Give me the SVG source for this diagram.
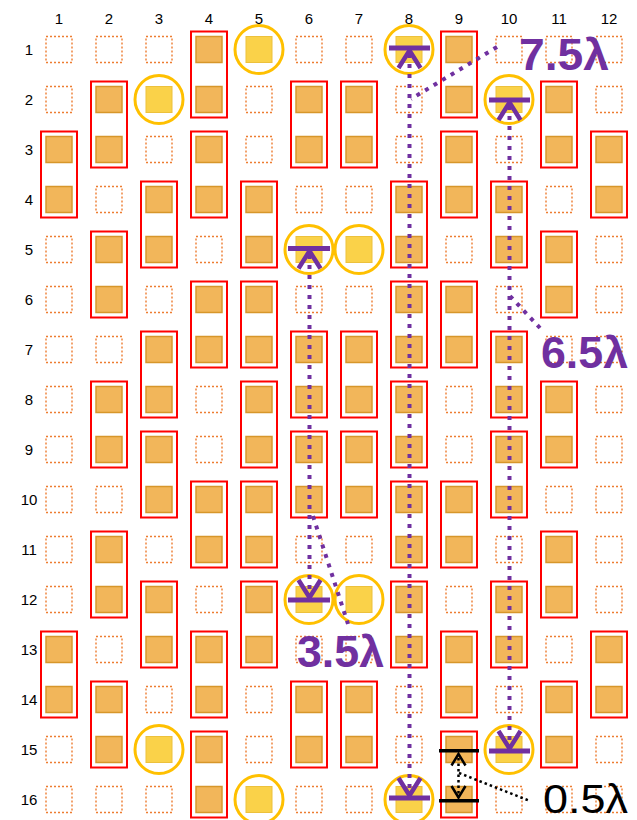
<svg xmlns="http://www.w3.org/2000/svg" xmlns:xlink="http://www.w3.org/1999/xlink" width="637" height="820" viewBox="0 0 637 820">
<style>
.lbl{font-family:"Liberation Sans",Arial,sans-serif;font-size:15px;fill:#000;text-anchor:middle}
.dash{fill:none;stroke:#ED7D31;stroke-width:1.4;stroke-dasharray:2 2}
.fill{fill:#F2B65A;stroke:#D7962C;stroke-width:1.5}
.ysq{fill:#FAD24A;stroke:#EDC13A;stroke-width:1}
.ring{fill:none;stroke:#FFC000;stroke-width:3}
.red{fill:none;stroke:#FF0000;stroke-width:2}
.pdot{fill:none;stroke:#7030A0;stroke-width:4;stroke-dasharray:4 6}
.pbar{fill:none;stroke:#7030A0;stroke-width:5}
.pchev{fill:none;stroke:#7030A0;stroke-width:4.5;stroke-linejoin:miter}
.kdot{fill:none;stroke:#000;stroke-width:2.5;stroke-dasharray:2.5 3}
.kbar{fill:none;stroke:#000;stroke-width:3.5}
.kchev{fill:none;stroke:#000;stroke-width:2.5}
.plab{font-family:"Liberation Sans",Arial,sans-serif;font-weight:bold;font-size:45px;fill:#7030A0}
.klab{font-family:"Liberation Sans",Arial,sans-serif;font-size:40px;fill:#000}
</style>
<defs>
<filter id="soft" x="-20%" y="-20%" width="140%" height="140%"><feGaussianBlur stdDeviation="0.6"/></filter>
<rect id="d" x="-13" y="-13" width="26" height="26" class="dash"/>
<g id="pair"><rect x="-18" y="-18" width="36" height="86" class="red"/><rect x="-13" y="-13" width="26" height="26" class="fill" filter="url(#soft)"/><rect x="-13" y="37" width="26" height="26" class="fill" filter="url(#soft)"/></g>
<g id="yc"><rect x="-13" y="-13" width="26" height="26" class="ysq" filter="url(#soft)"/><circle r="24" class="ring"/></g>
</defs>
<rect width="637" height="820" fill="#fff"/>
<g id="col-labels">
<text class="lbl" x="59" y="24">1</text><text class="lbl" x="109" y="24">2</text><text class="lbl" x="159" y="24">3</text><text class="lbl" x="209" y="24">4</text><text class="lbl" x="259" y="24">5</text><text class="lbl" x="309" y="24">6</text><text class="lbl" x="359" y="24">7</text><text class="lbl" x="409" y="24">8</text><text class="lbl" x="459" y="24">9</text><text class="lbl" x="509" y="24">10</text><text class="lbl" x="559" y="24">11</text><text class="lbl" x="609" y="24">12</text>
</g>
<g id="row-labels">
<text class="lbl" x="29" y="54.5">1</text><text class="lbl" x="29" y="104.5">2</text><text class="lbl" x="29" y="154.5">3</text><text class="lbl" x="29" y="204.5">4</text><text class="lbl" x="29" y="254.5">5</text><text class="lbl" x="29" y="304.5">6</text><text class="lbl" x="29" y="354.5">7</text><text class="lbl" x="29" y="404.5">8</text><text class="lbl" x="29" y="454.5">9</text><text class="lbl" x="29" y="504.5">10</text><text class="lbl" x="29" y="554.5">11</text><text class="lbl" x="29" y="604.5">12</text><text class="lbl" x="29" y="654.5">13</text><text class="lbl" x="29" y="704.5">14</text><text class="lbl" x="29" y="754.5">15</text><text class="lbl" x="29" y="804.5">16</text>
</g>
<g id="empty-cells">
<!-- col1 -->
<use href="#d" x="59" y="49.5"/><use href="#d" x="59" y="99.5"/><use href="#d" x="59" y="249.5"/><use href="#d" x="59" y="299.5"/><use href="#d" x="59" y="349.5"/><use href="#d" x="59" y="399.5"/><use href="#d" x="59" y="449.5"/><use href="#d" x="59" y="499.5"/><use href="#d" x="59" y="549.5"/><use href="#d" x="59" y="599.5"/><use href="#d" x="59" y="749.5"/><use href="#d" x="59" y="799.5"/>
<!-- col2 -->
<use href="#d" x="109" y="49.5"/><use href="#d" x="109" y="199.5"/><use href="#d" x="109" y="349.5"/><use href="#d" x="109" y="499.5"/><use href="#d" x="109" y="649.5"/><use href="#d" x="109" y="799.5"/>
<!-- col3 -->
<use href="#d" x="159" y="49.5"/><use href="#d" x="159" y="149.5"/><use href="#d" x="159" y="299.5"/><use href="#d" x="159" y="549.5"/><use href="#d" x="159" y="699.5"/><use href="#d" x="159" y="799.5"/>
<!-- col4 -->
<use href="#d" x="209" y="249.5"/><use href="#d" x="209" y="399.5"/><use href="#d" x="209" y="449.5"/><use href="#d" x="209" y="599.5"/>
<!-- col5 -->
<use href="#d" x="259" y="99.5"/><use href="#d" x="259" y="149.5"/><use href="#d" x="259" y="699.5"/><use href="#d" x="259" y="749.5"/>
<!-- col6 -->
<use href="#d" x="309" y="49.5"/><use href="#d" x="309" y="199.5"/><use href="#d" x="309" y="299.5"/><use href="#d" x="309" y="549.5"/><use href="#d" x="309" y="649.5"/><use href="#d" x="309" y="799.5"/>
<!-- col7 -->
<use href="#d" x="359" y="49.5"/><use href="#d" x="359" y="199.5"/><use href="#d" x="359" y="299.5"/><use href="#d" x="359" y="549.5"/><use href="#d" x="359" y="649.5"/><use href="#d" x="359" y="799.5"/>
<!-- col8 -->
<use href="#d" x="409" y="99.5"/><use href="#d" x="409" y="149.5"/><use href="#d" x="409" y="699.5"/><use href="#d" x="409" y="749.5"/>
<!-- col9 -->
<use href="#d" x="459" y="249.5"/><use href="#d" x="459" y="399.5"/><use href="#d" x="459" y="449.5"/><use href="#d" x="459" y="599.5"/>
<!-- col10 -->
<use href="#d" x="509" y="49.5"/><use href="#d" x="509" y="149.5"/><use href="#d" x="509" y="299.5"/><use href="#d" x="509" y="549.5"/><use href="#d" x="509" y="699.5"/><use href="#d" x="509" y="799.5"/>
<!-- col11 -->
<use href="#d" x="559" y="49.5"/><use href="#d" x="559" y="199.5"/><use href="#d" x="559" y="349.5"/><use href="#d" x="559" y="499.5"/><use href="#d" x="559" y="649.5"/><use href="#d" x="559" y="799.5"/>
<!-- col12 -->
<use href="#d" x="609" y="49.5"/><use href="#d" x="609" y="99.5"/><use href="#d" x="609" y="249.5"/><use href="#d" x="609" y="299.5"/><use href="#d" x="609" y="349.5"/><use href="#d" x="609" y="399.5"/><use href="#d" x="609" y="449.5"/><use href="#d" x="609" y="499.5"/><use href="#d" x="609" y="549.5"/><use href="#d" x="609" y="599.5"/><use href="#d" x="609" y="749.5"/><use href="#d" x="609" y="799.5"/>
</g>
<g id="pairs">
<g id="p-1-3"><use href="#pair" x="59" y="149.5"/></g>
<g id="p-1-13"><use href="#pair" x="59" y="649.5"/></g>
<g id="p-2-2"><use href="#pair" x="109" y="99.5"/></g>
<g id="p-2-5"><use href="#pair" x="109" y="249.5"/></g>
<g id="p-2-8"><use href="#pair" x="109" y="399.5"/></g>
<g id="p-2-11"><use href="#pair" x="109" y="549.5"/></g>
<g id="p-2-14"><use href="#pair" x="109" y="699.5"/></g>
<g id="p-3-4"><use href="#pair" x="159" y="199.5"/></g>
<g id="p-3-7"><use href="#pair" x="159" y="349.5"/></g>
<g id="p-3-9"><use href="#pair" x="159" y="449.5"/></g>
<g id="p-3-12"><use href="#pair" x="159" y="599.5"/></g>
<g id="p-4-1"><use href="#pair" x="209" y="49.5"/></g>
<g id="p-4-3"><use href="#pair" x="209" y="149.5"/></g>
<g id="p-4-6"><use href="#pair" x="209" y="299.5"/></g>
<g id="p-4-10"><use href="#pair" x="209" y="499.5"/></g>
<g id="p-4-13"><use href="#pair" x="209" y="649.5"/></g>
<g id="p-4-15"><use href="#pair" x="209" y="749.5"/></g>
<g id="p-5-4"><use href="#pair" x="259" y="199.5"/></g>
<g id="p-5-6"><use href="#pair" x="259" y="299.5"/></g>
<g id="p-5-8"><use href="#pair" x="259" y="399.5"/></g>
<g id="p-5-10"><use href="#pair" x="259" y="499.5"/></g>
<g id="p-5-12"><use href="#pair" x="259" y="599.5"/></g>
<g id="p-6-2"><use href="#pair" x="309" y="99.5"/></g>
<g id="p-6-7"><use href="#pair" x="309" y="349.5"/></g>
<g id="p-6-9"><use href="#pair" x="309" y="449.5"/></g>
<g id="p-6-14"><use href="#pair" x="309" y="699.5"/></g>
<g id="p-7-2"><use href="#pair" x="359" y="99.5"/></g>
<g id="p-7-7"><use href="#pair" x="359" y="349.5"/></g>
<g id="p-7-9"><use href="#pair" x="359" y="449.5"/></g>
<g id="p-7-14"><use href="#pair" x="359" y="699.5"/></g>
<g id="p-8-4"><use href="#pair" x="409" y="199.5"/></g>
<g id="p-8-6"><use href="#pair" x="409" y="299.5"/></g>
<g id="p-8-8"><use href="#pair" x="409" y="399.5"/></g>
<g id="p-8-10"><use href="#pair" x="409" y="499.5"/></g>
<g id="p-8-12"><use href="#pair" x="409" y="599.5"/></g>
<g id="p-9-1"><use href="#pair" x="459" y="49.5"/></g>
<g id="p-9-3"><use href="#pair" x="459" y="149.5"/></g>
<g id="p-9-6"><use href="#pair" x="459" y="299.5"/></g>
<g id="p-9-10"><use href="#pair" x="459" y="499.5"/></g>
<g id="p-9-13"><use href="#pair" x="459" y="649.5"/></g>
<g id="p-9-15"><use href="#pair" x="459" y="749.5"/></g>
<g id="p-10-4"><use href="#pair" x="509" y="199.5"/></g>
<g id="p-10-7"><use href="#pair" x="509" y="349.5"/></g>
<g id="p-10-9"><use href="#pair" x="509" y="449.5"/></g>
<g id="p-10-12"><use href="#pair" x="509" y="599.5"/></g>
<g id="p-11-2"><use href="#pair" x="559" y="99.5"/></g>
<g id="p-11-5"><use href="#pair" x="559" y="249.5"/></g>
<g id="p-11-8"><use href="#pair" x="559" y="399.5"/></g>
<g id="p-11-11"><use href="#pair" x="559" y="549.5"/></g>
<g id="p-11-14"><use href="#pair" x="559" y="699.5"/></g>
<g id="p-12-3"><use href="#pair" x="609" y="149.5"/></g>
<g id="p-12-13"><use href="#pair" x="609" y="649.5"/></g>
</g>
<g id="singles">
<g id="y-5-1"><use href="#yc" x="259" y="49.5"/></g>
<g id="y-8-1"><use href="#yc" x="409" y="49.5"/></g>
<g id="y-3-2"><use href="#yc" x="159" y="99.5"/></g>
<g id="y-10-2"><use href="#yc" x="509" y="99.5"/></g>
<g id="y-6-5"><use href="#yc" x="309" y="249.5"/></g>
<g id="y-7-5"><use href="#yc" x="359" y="249.5"/></g>
<g id="y-6-12"><use href="#yc" x="309" y="599.5"/></g>
<g id="y-7-12"><use href="#yc" x="359" y="599.5"/></g>
<g id="y-3-15"><use href="#yc" x="159" y="749.5"/></g>
<g id="y-10-15"><use href="#yc" x="509" y="749.5"/></g>
<g id="y-5-16"><use href="#yc" x="259" y="799.5"/></g>
<g id="y-8-16"><use href="#yc" x="409" y="799.5"/></g>
</g>
<g id="connectors">
<!-- 7.5 lambda: col8 row1 to row16 -->
<line class="pdot" x1="409.5" y1="54" x2="409.5" y2="794"/>
<line class="pbar" x1="389" y1="48" x2="430" y2="48"/>
<polyline class="pchev" points="398.5,68 409.5,50.5 420.5,68"/>
<line class="pbar" x1="389" y1="798" x2="430" y2="798"/>
<polyline class="pchev" points="398.5,778 409.5,795.5 420.5,778"/>
<!-- 6.5 lambda: col10 row2 to row15 -->
<line class="pdot" x1="509.5" y1="106" x2="509.5" y2="745"/>
<line class="pbar" x1="489" y1="100" x2="530" y2="100"/>
<polyline class="pchev" points="498.5,120 509.5,102.5 520.5,120"/>
<line class="pbar" x1="489" y1="751" x2="530" y2="751"/>
<polyline class="pchev" points="498.5,731 509.5,748.5 520.5,731"/>
<!-- 3.5 lambda: col6 row5 to row12 -->
<line class="pdot" x1="309.5" y1="255" x2="309.5" y2="594"/>
<line class="pbar" x1="288" y1="248.5" x2="330" y2="248.5"/>
<polyline class="pchev" points="298.5,268.5 309.5,251 320.5,268.5"/>
<line class="pbar" x1="288" y1="600" x2="330" y2="600"/>
<polyline class="pchev" points="298.5,580 309.5,597.5 320.5,580"/>
<!-- 0.5 lambda: col9 row15 to row16 -->
<line class="kdot" x1="458.5" y1="758" x2="458.5" y2="794"/>
<line class="kbar" x1="439" y1="750.7" x2="479" y2="750.7"/>
<polyline class="kchev" points="451.5,765.5 458.5,754 465.5,765.5"/>
<line class="kbar" x1="439" y1="800.7" x2="479" y2="800.7"/>
<polyline class="kchev" points="451.5,786 458.5,797.5 465.5,786"/>
<!-- leaders -->
<line class="pdot" x1="497" y1="47" x2="411" y2="99"/>
<line class="pdot" x1="510" y1="296" x2="540" y2="328"/>
<line class="pdot" x1="313" y1="516" x2="348" y2="624"/>
<line class="kdot" x1="459" y1="773" x2="530" y2="801"/>
</g>
<g id="labels">
<text class="plab" x="519" y="70" textLength="90" lengthAdjust="spacingAndGlyphs">7.5λ</text>
<text class="plab" x="541" y="368" textLength="87" lengthAdjust="spacingAndGlyphs">6.5λ</text>
<text class="plab" x="297" y="667" textLength="87" lengthAdjust="spacingAndGlyphs">3.5λ</text>
<text class="klab" x="543" y="813" textLength="85" lengthAdjust="spacingAndGlyphs">0.5λ</text>
</g>
</svg>
